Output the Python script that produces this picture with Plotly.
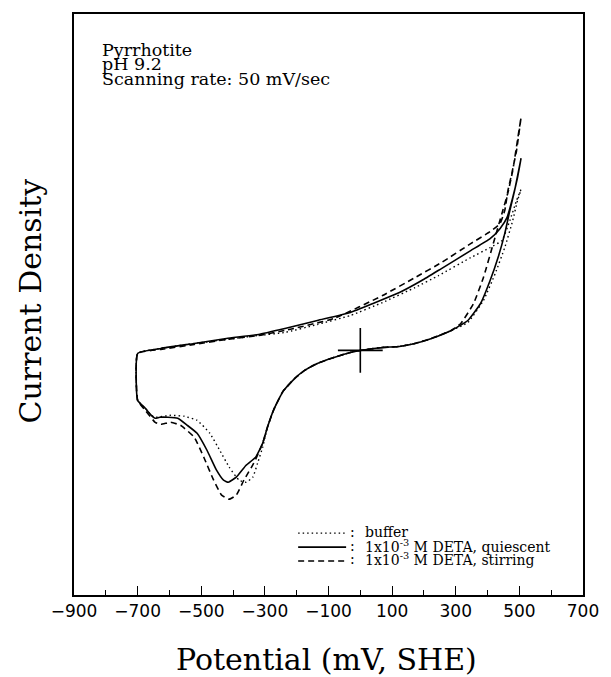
import plotly.graph_objects as go

# ---- data (potential in mV vs SHE, current density in arbitrary units) ----
x_solid = [0, 70, 123, 172, 224, 286, 338, 378, 408, 433, 454, 470, 485, 505,
           494, 479, 461, 439, 408, 347, 255, 193, 123, 40, -31, -135, -237, -320, -421, -522, -627, -700,
           -700, -676, -657, -645, -630, -605, -574, -544, -513, -482, -452, -430, -415, -390, -359, -329,
           -307, -292, -273, -243, -206, -175, -135, -83, -31, 0]
y_solid = [0.0, 0.3, 0.4, 0.7, 1.2, 2.0, 3.0, 4.7, 7.0, 9.3, 11.7, 14.0, 16.0, 19.2,
           17.3, 15.3, 13.3, 12.2, 11.2, 10.0, 8.2, 7.0, 5.8, 4.7, 3.8, 3.0, 2.2, 1.6, 1.2, 0.7, 0.2, -0.3,
           -5.0, -5.8, -6.5, -6.8, -6.7, -6.7, -6.8, -7.5, -8.3, -10.0, -12.0, -13.0, -13.2, -12.7, -11.5, -10.7,
           -9.3, -7.7, -6.0, -4.1, -2.8, -2.0, -1.3, -0.7, -0.2, 0.0]

x_dash = [0, 70, 123, 172, 224, 286, 316, 356, 387, 418, 445, 464, 479, 505,
          491, 476, 464, 454, 439, 408, 347, 255, 172, 70, -83, -237, -320, -421, -522, -627, -700,
          -700, -676, -645, -627, -596, -565, -522, -492, -461, -436, -412, -390, -366, -335,
          -307, -292, -273, -243, -206, -175, -135, -83, -31, 0]
y_dash = [0.0, 0.3, 0.4, 0.7, 1.2, 2.0, 2.7, 4.7, 7.3, 10.7, 13.7, 15.8, 18.0, 23.3,
          20.0, 17.7, 16.0, 14.0, 12.7, 11.9, 10.7, 8.8, 7.3, 5.5, 3.2, 2.0, 1.5, 1.1, 0.6, 0.1, -0.3,
          -5.0, -6.0, -7.2, -7.4, -7.2, -7.5, -8.7, -10.7, -13.0, -14.5, -14.9, -14.5, -13.0, -11.3,
          -9.3, -7.7, -6.0, -4.1, -2.8, -2.0, -1.3, -0.7, -0.2, 0.0]

x_dot = [0, 70, 123, 172, 224, 286, 338, 387, 424, 454, 479, 494, 505,
         491, 470, 445, 408, 347, 246, 172, 70, -31, -135, -237, -320, -421, -522, -627, -700,
         -700, -676, -657, -645, -596, -553, -513, -473, -442, -412, -381, -359, -338, -323,
         -307, -298, -292, -273, -243, -206, -175, -135, -83, -31, 0]
y_dot = [0.0, 0.3, 0.4, 0.7, 1.2, 2.0, 2.8, 5.0, 7.7, 10.3, 13.0, 15.0, 16.1,
         15.0, 13.0, 11.0, 10.3, 9.3, 7.5, 6.3, 4.8, 3.5, 2.6, 1.8, 1.5, 1.1, 0.7, 0.2, -0.3,
         -5.0, -5.8, -6.5, -6.7, -6.5, -6.6, -7.0, -8.3, -10.0, -11.7, -13.0, -13.2, -12.7, -11.3,
         -9.7, -8.5, -7.7, -6.0, -4.1, -2.8, -2.0, -1.3, -0.7, -0.2, 0.0]

rest_potential = [0]
rest_current = [0]

x_ticks = [-900, -700, -500, -300, -100, 100, 300, 500, 700]
x_tick_labels = ["\u2212900", "\u2212700", "\u2212500", "\u2212300", "\u2212100", "100", "300", "500", "700"]

series_names = ["buffer", "1x10<sup>-3</sup> M DETA, quiescent", "1x10<sup>-3</sup> M DETA, stirring"]
info_lines = ["Pyrrhotite", "pH 9.2", "Scanning rate: 50 mV/sec"]

SERIF = "DejaVu Serif, Liberation Serif, serif"

fig = go.Figure()
styles = [("1.5px,3px", 1.4), ("solid", 1.6), ("6px,4px", 1.6)]
for (xs, ys), name, (dash, w) in zip([(x_dot, y_dot), (x_solid, y_solid), (x_dash, y_dash)],
                                     series_names, styles):
    fig.add_trace(go.Scatter(x=xs, y=ys, mode="lines", name=name,
                             line=dict(color="black", width=w, dash=dash, shape="spline", smoothing=0.4),
                             showlegend=False))

fig.add_trace(go.Scatter(x=rest_potential, y=rest_current, mode="markers", showlegend=False,
                         marker=dict(symbol="cross-thin", size=32, line=dict(color="black", width=1.6))))

# ---- manual legend (paper coordinates) ----
PW, PH, L0, B0 = 520.0, 582.0, 74.0, 595.0
def px(x):
    return (x - L0) / PW
def py(y):
    return (B0 - y) / PH

legend_y = [533, 547, 561]
text_y = [532, 545.5, 559]
shapes = []
for (dash, w), ly in zip(styles, legend_y):
    shapes.append(dict(type="line", xref="paper", yref="paper", x0=px(303), x1=px(352),
                       y0=py(ly), y1=py(ly), line=dict(color="black", width=w, dash=dash)))
annotations = []
for name, ty in zip(series_names, text_y):
    annotations.append(dict(text=":", x=px(359), y=py(ty), xref="paper", yref="paper",
                            xanchor="center", yanchor="middle", showarrow=False,
                            font=dict(family=SERIF, size=14, color="black")))
    annotations.append(dict(text=name, x=px(369), y=py(ty), xref="paper", yref="paper",
                            xanchor="left", yanchor="middle", showarrow=False,
                            font=dict(family=SERIF, size=14, color="black")))

for line, by in zip(info_lines, [49, 63.5, 78]):
    annotations.append(dict(text=line, x=px(101), y=py(by), xref="paper", yref="paper",
                            xanchor="left", yanchor="middle", showarrow=False,
                            font=dict(family=SERIF, size=17.5, color="black")))

annotations.append(dict(text="Potential (mV, SHE)", x=px(332), y=py(660), xref="paper", yref="paper",
                        xanchor="center", yanchor="middle", showarrow=False,
                        font=dict(family=SERIF, size=30, color="black")))
annotations.append(dict(text="Current Density", x=px(30), y=py(300), xref="paper", yref="paper",
                        xanchor="center", yanchor="middle", showarrow=False, textangle=-90,
                        font=dict(family=SERIF, size=30, color="black")))

fig.update_layout(
    width=611, height=677,
    margin=dict(l=74, r=17, t=13, b=82),
    paper_bgcolor="white", plot_bgcolor="white",
    shapes=shapes, annotations=annotations,
    xaxis=dict(range=[-900, 700], tickmode="array", tickvals=x_ticks, ticktext=x_tick_labels,
               ticks="inside", ticklen=9, tickwidth=1.2, tickcolor="black",
               minor=dict(ticks="inside", ticklen=5, tickwidth=1.2, tickcolor="black", dtick=100, tick0=-900),
               showline=True, linecolor="black", linewidth=1.5, mirror=True,
               showgrid=False, zeroline=False,
               tickfont=dict(family="DejaVu Sans, sans-serif", size=17, color="black")),
    yaxis=dict(range=[-24.5, 33.7], showticklabels=False, ticks="",
               showline=True, linecolor="black", linewidth=1.5, mirror=True,
               showgrid=False, zeroline=False),
)

fig.write_html("out.html")
